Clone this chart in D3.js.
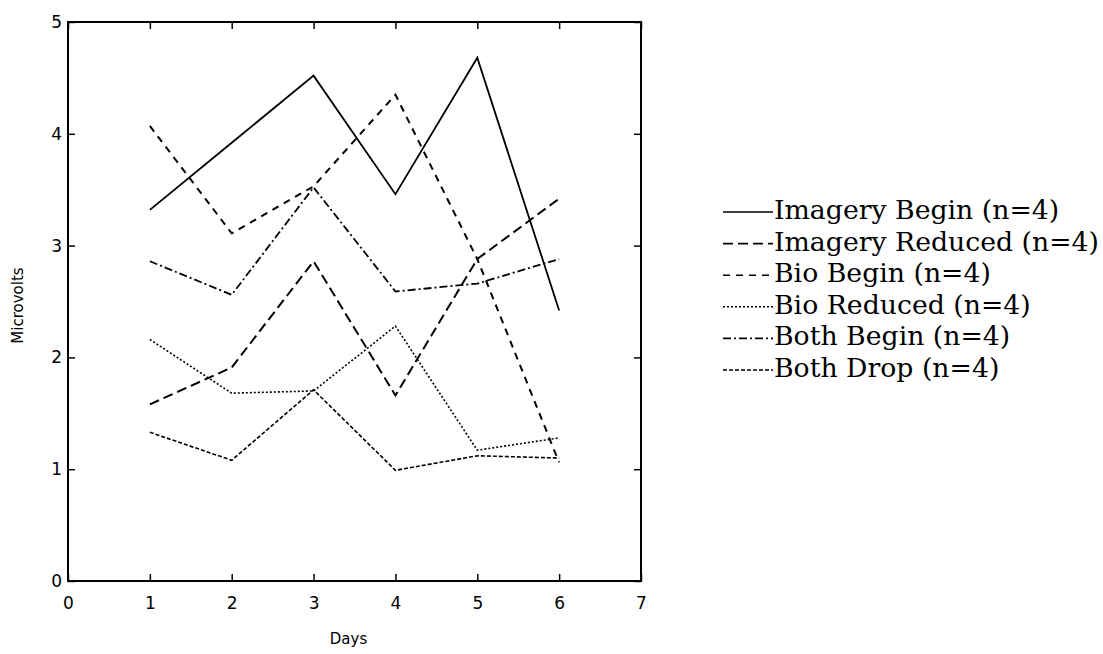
<!DOCTYPE html>
<html>
<head>
<meta charset="utf-8">
<script src="https://cdn.jsdelivr.net/npm/d3@7"></script>
<style>
  html, body { margin: 0; padding: 0; background: #fff; }
  svg { display: block; }
</style>
</head>
<body>
<svg id="chart" width="1103" height="654"></svg>
<script>
// ---- Data ----
const days = [1, 2, 3, 4, 5, 6];
const seriesNames = [
  "Imagery Begin (n=4)",
  "Imagery Reduced (n=4)",
  "Bio Begin (n=4)",
  "Bio Reduced (n=4)",
  "Both Begin (n=4)",
  "Both Drop (n=4)"
];
const imageryBegin   = [3.32, 3.92, 4.52, 3.46, 4.68, 2.42];
const imageryReduced = [1.58, 1.91, 2.86, 1.66, 2.88, 3.42];
const bioBegin       = [4.07, 3.11, 3.53, 4.35, 2.88, 1.06];
const bioReduced     = [2.16, 1.68, 1.70, 2.28, 1.17, 1.28];
const bothBegin      = [2.86, 2.56, 3.52, 2.59, 2.66, 2.88];
const bothDrop       = [1.33, 1.08, 1.71, 0.99, 1.12, 1.10];
const xTicks = [0, 1, 2, 3, 4, 5, 6, 7];
const yTicks = [0, 1, 2, 3, 4, 5];
const xTitle = "Days";
const yTitle = "Microvolts";

const allSeries = [imageryBegin, imageryReduced, bioBegin, bioReduced, bothBegin, bothDrop];
const dashes = ["none", "10,5", "7,6", "2,2", "8,3,2,3", "4,2"];
const widths = [1.8, 2, 2, 1.6, 1.8, 1.6];

// ---- Layout ----
const svg = d3.select("#chart");
const pLeft = 68, pRight = 641, pTop = 22, pBottom = 581;

const x = d3.scaleLinear().domain([0, 7]).range([pLeft, pRight]);
const y = d3.scaleLinear().domain([0, 5]).range([pBottom, pTop]);

const tickFont = "'DejaVu Sans', Verdana, sans-serif";

const gx = svg.append("g")
  .attr("transform", `translate(0,${pBottom})`)
  .call(d3.axisBottom(x).tickValues(xTicks).tickFormat(d3.format("d"))
    .tickSizeInner(-7).tickSizeOuter(0).tickPadding(16));
const gy = svg.append("g")
  .attr("transform", `translate(${pLeft},0)`)
  .call(d3.axisLeft(y).tickValues(yTicks).tickFormat(d3.format("d"))
    .tickSizeInner(-7).tickSizeOuter(0).tickPadding(6));
const gt = svg.append("g")
  .attr("transform", `translate(0,${pTop})`)
  .call(d3.axisTop(x).tickValues(xTicks).tickFormat("")
    .tickSizeInner(-7).tickSizeOuter(0));
const gr = svg.append("g")
  .attr("transform", `translate(${pRight},0)`)
  .call(d3.axisRight(y).tickValues(yTicks).tickFormat("")
    .tickSizeInner(-7).tickSizeOuter(0));

[gx, gy, gt, gr].forEach(g => {
  g.select(".domain").remove();
  g.selectAll(".tick line").attr("stroke", "#000").attr("stroke-width", 1.5);
  g.selectAll(".tick text")
    .attr("fill", "#000")
    .style("font-family", tickFont)
    .style("font-size", "17px");
});

svg.append("rect")
  .attr("x", pLeft).attr("y", pTop)
  .attr("width", pRight - pLeft).attr("height", pBottom - pTop)
  .attr("fill", "none").attr("stroke", "#000").attr("stroke-width", 2);

svg.append("text")
  .attr("x", (pLeft + pRight) / 2 - 6).attr("y", 644)
  .attr("text-anchor", "middle")
  .style("font-family", tickFont).style("font-size", "15px")
  .text(xTitle);
svg.append("text")
  .attr("transform", `translate(23,${(pTop + pBottom) / 2 + 4}) rotate(-90)`)
  .attr("text-anchor", "middle")
  .style("font-family", tickFont).style("font-size", "15px")
  .text(yTitle);

const line = d3.line()
  .x((d, i) => x(days[i]))
  .y(d => y(d));

svg.append("g").selectAll("path")
  .data(allSeries)
  .join("path")
  .attr("d", d => line(d))
  .attr("fill", "none")
  .attr("stroke", "#000")
  .attr("stroke-width", (d, i) => widths[i])
  .attr("stroke-dasharray", (d, i) => dashes[i])
  .attr("stroke-linejoin", "miter");

const legX = 723, legY = 212, legStep = 31.6, legLen = 50;
const leg = svg.append("g");
const rows = leg.selectAll("g").data(seriesNames).join("g")
  .attr("transform", (d, i) => `translate(${legX},${legY + i * legStep})`);
rows.append("line")
  .attr("x1", 0).attr("x2", legLen).attr("y1", 0).attr("y2", 0)
  .attr("stroke", "#000")
  .attr("stroke-width", (d, i) => Math.min(widths[i], 1.6))
  .attr("stroke-dasharray", (d, i) => dashes[i]);
const texts = rows.append("text")
  .attr("x", legLen + 1).attr("y", 7)
  .style("font-family", "'DejaVu Serif', 'Liberation Serif', serif")
  .style("font-size", "20px")
  .attr("fill", "#000")
  .text(d => d);
const longest = texts.nodes()[1].getComputedTextLength();
const fs = 20 * 325 / longest;
texts.style("font-size", fs.toFixed(2) + "px");
</script>
</body>
</html>
